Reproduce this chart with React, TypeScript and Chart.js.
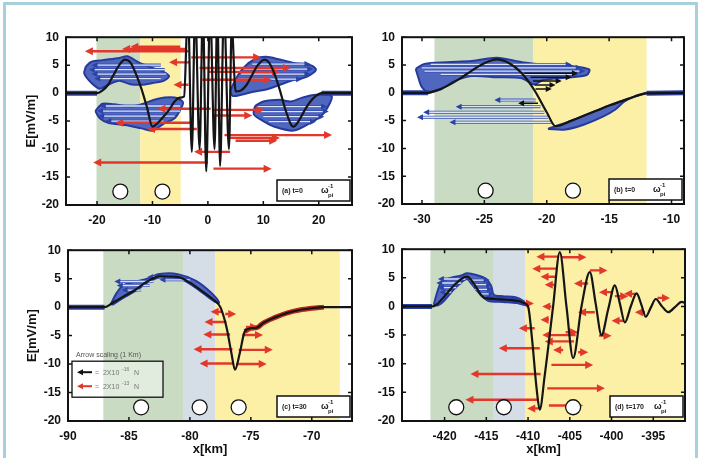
import React, { useEffect, useRef } from "react";
import { Chart, registerables } from "chart.js";
Chart.register(...registerables);

// ---------------- shared ----------------
const yTicks = [-20, -15, -10, -5, 0, 5, 10];
const circleY = -17.6;

// ---------------- panel (a) ----------------
const aRange = [-25.6, 26];
const aTicks = [-20, -10, 0, 10, 20];
const aX = [-25.6, -20, -19, -18, -17, -16, -15, -14, -13, -12, -11, -10, -9, -8, -7, -6, -5, -4.3, -3.6, -2.9, -2.3, -1.5, -0.9, -0.3, 0.4, 1.2, 1.7, 2.2, 2.9, 3.8, 4.3, 5, 6, 7, 8, 9, 10.2, 11, 12, 13, 14, 15.4, 16.5, 17.5, 18.5, 19.5, 20.5, 26];
const aY = [0, 0, 0.5, 1.5, 3.3, 5, 6, 5.5, 3.5, 0.8, -2.5, -6, -5.3, -4.2, -3, -1.5, -0.8, -0.6, 15, -10.5, 15, -10, 15, -14, 15, -10, 15, -13, 15, -10, 12, 0.3, 0.5, 1.5, 3.3, 5, 6, 5.5, 3.5, 0.5, -3, -6, -4.8, -3, -1.5, -0.5, 0, 0];
const aBands = [[-20.1, -12.2], [-12.2, -4.9]];
const aBandKinds = ["green", "yellow"];
const aThickBlue = [[-25.6, -20], [20.5, 26]];
const aThickRed: number[][] = [];
const aCircleX = [-15.8, -8.2];
const aBlob1X = [-22, -21, -19, -16, -14.5, -12.5, -10, -8, -7, -8, -10, -12, -14, -16, -18, -19.5, -21, -22.3];
const aBlob1Y = [4.8, 5.6, 5.9, 6.3, 6.6, 5.5, 4.5, 3.8, 3, 2.2, 1.8, 1.5, 1.6, 2.2, 1.5, 0.8, 1.8, 3.5];
const aBlob2X = [-20.3, -19, -17, -14, -12, -9, -6, -4.5, -5, -6, -8, -10, -12, -15, -18, -19.5];
const aBlob2Y = [-3.2, -1.9, -2, -2.4, -2, -1, -0.8, -1.6, -3, -4.5, -5.5, -6.7, -6.3, -5.7, -5.3, -4.5];
const aBlob3X = [4, 5, 6.5, 8.5, 10.5, 13, 16, 18.5, 19.5, 18, 15, 13, 11, 8, 6, 4.5];
const aBlob3Y = [0.3, 2.5, 4.6, 6.1, 6.5, 6, 5.3, 5, 4.2, 3, 2.2, 1.5, 0.8, 0.2, -0.3, -0.5];
const aBlob4X = [8.5, 10, 13, 15, 17, 19.5, 22.3, 22, 20.5, 18, 15.4, 12, 10, 8.3];
const aBlob4Y = [-2.3, -1.5, -1.2, -1.5, -0.8, -0.3, -0.5, -1.8, -4, -5.6, -6.7, -6, -5, -3.8];
// arrows: [E, xFrom, xTo]
const aLightArrows = [[5.0, -8.5, -21], [4.2, -7.8, -21.5], [3.4, -7.5, -21], [2.6, -8.5, -20.5], [-2.3, -5, -19.5], [-3.2, -5, -20], [-4.1, -6, -19.8], [-5, -8, -18.5], [5.2, 8, 18.5], [4.3, 6.5, 19], [3.4, 6, 18.5], [2.5, 5.5, 17], [-2.4, 9, 21.5], [-3.3, 9.5, 21.8], [-4.2, 10, 21], [-5.1, 11, 19.5]];
const aRedArrows = [[7.5, -3.5, -22.2], [7.9, -4, -15.5], [8.3, -5, -14], [6.4, -3, 9.6], [4.5, -1.5, 15], [3.8, 0, 13], [2.4, -1, 11.5], [5.5, -3.2, -7], [1.5, -3.5, -6.2], [-2.8, 0.5, -9.1], [-3.0, 1, 10.2], [-4.0, 1, 8], [-5.3, -3, -16.7], [-6.4, -2, -11], [-7.5, 3, 22.4], [-8.0, 4, 13], [-8.5, 5, 12.5], [-10.5, 4, -2.5], [-12.4, 0, -20.7], [-13.5, 1, 11.5]];
const aBlackArrows: number[][] = [];

// ---------------- panel (b) ----------------
const bRange = [-31.6, -9];
const bTicks = [-30, -25, -20, -15, -10];
const bX = [-31.6, -29.5, -29, -28, -27, -26, -25, -24, -23, -22, -21, -20, -19.3, -18, -17, -16, -15, -14, -13, -12, -9];
const bY = [0, 0, 0.3, 1.2, 2.5, 4, 5.3, 6, 5.3, 3.5, 0.5, -3.5, -6, -5, -4.1, -3.2, -2.3, -1.5, -0.7, -0.1, 0];
const bBands = [[-29, -21.1], [-21.1, -12]];
const bBandKinds = ["green", "yellow"];
const bThickBlue = [[-31.6, -29.5], [-12, -9]];
const bThickRed: number[][] = [];
const bCircleX = [-24.9, -17.9];
const bBlob1X = [-30.5, -29.8, -28, -26, -24, -22, -20, -18, -16.6, -16.8, -18.5, -20.3, -21, -22, -24, -26, -27.5, -28.5, -29.5, -30, -30.3];
const bBlob1Y = [4.3, 5.2, 5.5, 5.7, 6.3, 5.5, 5, 4.8, 4.2, 3.2, 2.7, 2.3, 1.5, 2.6, 2.8, 3, 2, 0.6, 0.2, 1, 2.8];
const bBlob2X = [-19.9, -18.5, -17, -15.5, -14.5, -13.8, -12.8, -12, -13, -14, -15, -16, -17, -18, -19.3];
const bBlob2Y = [-6.5, -6.6, -5.7, -4.3, -3, -1.6, -0.5, 0, -0.7, -1.5, -2.3, -3.2, -4.1, -5, -6];
const bLightArrows = [[5.1, -29.3, -18], [4.5, -30, -17.2], [3.9, -29.8, -16.9], [3.3, -28.5, -17.5], [-1.3, -20.9, -24.2], [-2.5, -20.5, -27.3], [-3.5, -20.2, -29.9], [-4.4, -19.9, -30.4], [-5.3, -19.6, -27.8]];
const bRedArrows: number[][] = [];
const bBlackArrows = [[3.5, -21.8, -17.5], [2.8, -21.3, -18], [2.1, -21.1, -18.8], [1.4, -20.95, -19.3], [0.7, -20.9, -19.6], [-1.9, -20.7, -22.3]];

// ---------------- panel (c) ----------------
const cRange = [-90, -66.7];
const cTicks = [-90, -85, -80, -75, -70];
const cX = [-90, -87, -86.3, -85.5, -84.5, -83.5, -82.5, -81, -80, -79, -78, -77.5, -77, -76.6, -76.3, -75.9, -75.5, -75, -74.5, -74, -73, -72, -71, -70, -69, -66.7];
const cY = [0, 0, 0.8, 1.8, 3, 4.5, 5.4, 5.3, 4.3, 2.8, 1.2, 0, -3.5, -8, -11, -8, -4.3, -3.7, -3.6, -2.8, -1.8, -1, -0.5, -0.2, 0, 0];
const cBands = [[-87.1, -80.5], [-80.5, -77.9], [-77.9, -67.7]];
const cBandKinds = ["green", "gray", "yellow"];
const cThickBlue = [[-90, -87]];
const cThickRed = [[-75.5, -69]];
const cCircleX = [-84, -79.2, -76];
const cBlob1X = [-86.5, -86, -85.5, -84.8, -83.5, -82.5, -81, -79.5, -78.3, -77.6, -78, -79, -80, -81, -82.5, -83.5, -84.5, -85.5, -86.3];
const cBlob1Y = [0.5, 2.5, 3.8, 4.3, 5, 5.8, 5.8, 4.6, 2.6, 0.8, 1.0, 2.6, 4.1, 5.1, 5.2, 4.3, 2.8, 1.6, 0.5];
const cLightArrows = [[4.5, -83, -86.2], [3.8, -83.3, -86], [3, -84, -85.6], [5.3, -81, -83.5], [4.8, -80, -82.5]];
const cRedArrows = [[-0.8, -77.3, -78.3], [-2.6, -77, -78.8], [-4.8, -76.7, -78.9], [-4.9, -75.7, -74], [-7.4, -76.5, -79.7], [-7.5, -76, -73.2], [-9.9, -76.4, -79.2], [-10, -76.2, -73.7], [-1.2, -77.1, -76.2], [-3.5, -75.4, -74.4]];
const cBlackArrows: number[][] = [];

// ---------------- panel (d) ----------------
const dRange = [-425.1, -391.2];
const dTicks = [-420, -415, -410, -405, -400, -395];
const dX = [-425.1, -421.5, -421, -420, -419, -418, -417.3, -416.5, -415.5, -415, -414, -413, -412, -411, -410.5, -410, -409.5, -409, -408.6, -408, -407, -406.2, -405.4, -404.6, -403.6, -402.6, -401.9, -401.2, -400.4, -399.6, -399, -398.4, -397.7, -397, -396.4, -395.9, -395.3, -394.7, -394, -393.2, -392.4, -391.6, -391.2];
const dY = [0, 0, 0.3, 1.8, 3.5, 4.8, 5.2, 4, 1.8, 1.4, 1.3, 1.2, 1.1, 0.9, 0.6, 0, -6, -14, -18, -12, 0, 9.5, 0, -9, 0, 6, 0.5, -5, -0.5, 3.7, 0.5, -2.8, 0, 2.3, 0.2, -1.8, -0.2, 1.3, 0.1, -1, -0.1, 0.8, 0.6];
const dBands = [[-421.7, -414.1], [-414.1, -410.3], [-410.3, -391.2]];
const dBandKinds = ["green", "gray", "yellow"];
const dThickBlue = [[-425.1, -421.5], [-415, -410.5]];
const dThickRed: number[][] = [];
const dCircleX = [-418.6, -412.9, -404.6];
const dBlob1X = [-421.3, -420.9, -420.4, -419.3, -418, -417.3, -416.2, -415, -414.4, -414.1, -413, -411.5, -410.6, -410.2, -411.3, -413, -414.8, -415.8, -416.8, -417.3, -418, -419, -420, -420.8];
const dBlob1Y = [0.3, 2.4, 4.2, 5, 5.4, 5.8, 5.5, 4.8, 3.5, 2, 1.8, 1.6, 1, 0.2, 0.6, 0.8, 1, 2.2, 4, 4.8, 4.2, 2.8, 1.1, 0.2];
const dLightArrows = [[4.8, -417.5, -420.8], [4.1, -418, -421], [3.3, -418.6, -420.8], [2.5, -419.2, -420.6], [4.6, -417, -414.6], [3.8, -416.6, -414.3], [3, -416.3, -414.2], [2.2, -415.8, -414]];
const dRedArrows = [[8.7, -406.3, -409], [8.6, -406, -403], [6.6, -406.5, -409.5], [6.3, -402.6, -400.5], [5.2, -406.7, -408.5], [4, -402.8, -404.5], [3.8, -406.9, -408], [2.5, -400, -401.5], [2.2, -397, -398.5], [1.8, -399.6, -398], [0.5, -410, -409.3], [0, -407.2, -408.3], [-1, -402, -404], [-2.3, -407.5, -408.5], [-2.5, -398.5, -400], [-3.8, -409.2, -411.1], [-4.5, -405.5, -404], [-5, -404.3, -408.3], [-5.1, -401.5, -400], [-6.1, -404.5, -408], [-7.3, -408.6, -413.5], [-7.6, -405.8, -407], [-8, -404, -402.8], [-10.2, -407.2, -402.2], [-11.8, -408.5, -416.9], [-14.3, -407.7, -400.8], [-16.3, -408.7, -417.5], [-17.3, -407.5, -403.4], [-17.8, -408.5, -410.1], [1.5, -394.5, -393], [-1, -396, -397.2]];
const dBlackArrows: number[][] = [];

// ---------------- styles / layout ----------------
const BAND_COLORS: any = { green: "#c9dcc3", yellow: "#fcefa6", gray: "#d5dde6" };
const FONT = "'Liberation Sans', Arial, sans-serif";

const panels: any[] = [
  { id: "a", tag: "(a) t=0", range: aRange, ticks: aTicks, x: aX, y: aY, bands: aBands, kinds: aBandKinds, thickBlue: aThickBlue, thickRed: aThickRed, circles: aCircleX, blobs: [[aBlob1X, aBlob1Y], [aBlob2X, aBlob2Y], [aBlob3X, aBlob3Y], [aBlob4X, aBlob4Y]], light: aLightArrows, red: aRedArrows, black: aBlackArrows, yTitle: true, xTitle: false, box: { left: 12, top: 23, w: 354, h: 206, wy: 54, hx: 24, tp: 12 } },
  { id: "b", tag: "(b) t=0", range: bRange, ticks: bTicks, x: bX, y: bY, bands: bBands, kinds: bBandKinds, thickBlue: bThickBlue, thickRed: bThickRed, circles: bCircleX, blobs: [[bBlob1X, bBlob1Y], [bBlob2X, bBlob2Y]], light: bLightArrows, red: bRedArrows, black: bBlackArrows, yTitle: false, xTitle: false, box: { left: 366, top: 23, w: 332, h: 205, wy: 36, hx: 24, tp: 0 } },
  { id: "c", tag: "(c) t=30", range: cRange, ticks: cTicks, x: cX, y: cY, bands: cBands, kinds: cBandKinds, thickBlue: cThickBlue, thickRed: cThickRed, circles: cCircleX, blobs: [[cBlob1X, cBlob1Y]], light: cLightArrows, red: cRedArrows, black: cBlackArrows, yTitle: true, xTitle: true, legend: true, box: { left: 12, top: 236, w: 354, h: 221, wy: 56, hx: 36, tp: 13 } },
  { id: "d", tag: "(d) t=170", range: dRange, ticks: dTicks, x: dX, y: dY, bands: dBands, kinds: dBandKinds, thickBlue: dThickBlue, thickRed: dThickRed, circles: dCircleX, blobs: [[dBlob1X, dBlob1Y]], light: dLightArrows, red: dRedArrows, black: dBlackArrows, yTitle: false, xTitle: true, box: { left: 366, top: 235, w: 333, h: 222, wy: 36, hx: 36, tp: 0 } },
];

function drawArrow(ctx: any, chart: any, a: number[], color: string, width: number, head: number, headColor?: string, outline?: string) {
  const sx = chart.scales.x, sy = chart.scales.y;
  const Y = sy.getPixelForValue(a[0]);
  const X0 = sx.getPixelForValue(a[1]);
  const X1 = sx.getPixelForValue(a[2]);
  const dir = Math.sign(X1 - X0) || 1;
  if (outline) {
    ctx.strokeStyle = outline;
    ctx.lineWidth = width + 1.8;
    ctx.beginPath(); ctx.moveTo(X0, Y); ctx.lineTo(X1 - dir * head * 0.6, Y); ctx.stroke();
  }
  ctx.strokeStyle = color;
  ctx.lineWidth = width;
  ctx.beginPath(); ctx.moveTo(X0, Y); ctx.lineTo(X1 - dir * head * 0.6, Y); ctx.stroke();
  ctx.fillStyle = headColor || color;
  ctx.beginPath();
  ctx.moveTo(X1, Y);
  ctx.lineTo(X1 - dir * head, Y - head * 0.5);
  ctx.lineTo(X1 - dir * head, Y + head * 0.5);
  ctx.closePath(); ctx.fill();
}

function makePlugin(p: any) {
  return {
    id: "panel" + p.id,
    beforeDatasetsDraw(chart: any) {
      const { ctx, chartArea: ca, scales } = chart;
      ctx.save();
      p.bands.forEach((b: number[], i: number) => {
        const x0 = Math.max(ca.left, scales.x.getPixelForValue(b[0]));
        const x1 = Math.min(ca.right, scales.x.getPixelForValue(b[1]));
        ctx.fillStyle = BAND_COLORS[p.kinds[i]];
        ctx.fillRect(x0, ca.top, x1 - x0, ca.bottom - ca.top);
      });
      ctx.restore();
    },
    beforeDatasetDraw(chart: any, args: any) {
      if (chart.data.datasets[args.index].label !== "E") return;
      const { ctx, chartArea: ca } = chart;
      ctx.save();
      ctx.beginPath(); ctx.rect(ca.left, ca.top, ca.right - ca.left, ca.bottom - ca.top); ctx.clip();
      ctx.lineCap = "butt";
      p.light.forEach((a: number[]) => drawArrow(ctx, chart, a, "#dbe3f6", 1.3, 6, "#2c43a6", "#3a52b4"));
      p.black.forEach((a: number[]) => drawArrow(ctx, chart, a, "#111", 1.5, 6));
      p.red.forEach((a: number[]) => drawArrow(ctx, chart, a, "#e2372b", 2.4, 8));
      ctx.restore();
    },
    afterDatasetsDraw(chart: any) {
      const { ctx, chartArea: ca, scales } = chart;
      ctx.save();
      // frame
      ctx.strokeStyle = "#111";
      ctx.lineWidth = 2;
      ctx.strokeRect(ca.left, ca.top, ca.right - ca.left, ca.bottom - ca.top);
      // inward ticks on all sides
      ctx.lineWidth = 1.5;
      ctx.beginPath();
      scales.x.ticks.forEach((t: any) => {
        const X = scales.x.getPixelForValue(t.value);
        ctx.moveTo(X, ca.bottom); ctx.lineTo(X, ca.bottom - 4);
        ctx.moveTo(X, ca.top); ctx.lineTo(X, ca.top + 4);
      });
      scales.y.ticks.forEach((t: any) => {
        const Y = scales.y.getPixelForValue(t.value);
        ctx.moveTo(ca.left, Y); ctx.lineTo(ca.left + 4, Y);
        ctx.moveTo(ca.right, Y); ctx.lineTo(ca.right - 4, Y);
      });
      ctx.stroke();
      // label box
      const w = 73, h = 21;
      const bx = ca.right - 2 - w, by = ca.bottom - 4 - h;
      ctx.fillStyle = "#fff";
      ctx.fillRect(bx, by, w, h);
      ctx.strokeStyle = "#111";
      ctx.lineWidth = 1.5;
      ctx.strokeRect(bx, by, w, h);
      ctx.fillStyle = "#222";
      ctx.textBaseline = "alphabetic";
      ctx.textAlign = "left";
      ctx.font = `bold 7px ${FONT}`;
      ctx.fillText(p.tag, bx + 5, by + 13);
      ctx.font = `bold 9px ${FONT}`;
      const wx = bx + 44;
      ctx.fillText("ω", wx, by + 13);
      ctx.font = `bold 6px ${FONT}`;
      ctx.fillText("-1", wx + 7, by + 8);
      ctx.fillText("pi", wx + 7, by + 17);
      // arrow scaling legend
      if (p.legend) {
        const lx = ca.left + 4, ly = ca.top + 111, lw = 91, lh = 36;
        ctx.fillStyle = "rgba(255,255,255,0.45)";
        ctx.fillRect(lx, ly, lw, lh);
        ctx.strokeStyle = "#111";
        ctx.lineWidth = 1.3;
        ctx.strokeRect(lx, ly, lw, lh);
        ctx.fillStyle = "#555";
        ctx.font = `7px ${FONT}`;
        ctx.fillText("Arrow scaling (1 Km)", lx + 4, ly - 4);
        const rows = [["#111", "16", 11], ["#e2372b", "13", 25]];
        rows.forEach((r: any) => {
          const yy = ly + r[2];
          ctx.strokeStyle = r[0]; ctx.fillStyle = r[0]; ctx.lineWidth = 2;
          ctx.beginPath(); ctx.moveTo(lx + 20, yy); ctx.lineTo(lx + 10, yy); ctx.stroke();
          ctx.beginPath(); ctx.moveTo(lx + 5, yy); ctx.lineTo(lx + 11, yy - 3); ctx.lineTo(lx + 11, yy + 3); ctx.closePath(); ctx.fill();
          ctx.fillStyle = "#777";
          ctx.font = `7px ${FONT}`;
          ctx.fillText("=  2X10", lx + 23, yy + 3);
          ctx.font = `5px ${FONT}`;
          ctx.fillText("-" + r[1], lx + 50, yy - 1);
          ctx.font = `7px ${FONT}`;
          ctx.fillText("N", lx + 62, yy + 3);
        });
      }
      ctx.restore();
    },
  };
}

function buildConfig(p: any) {
  const box = p.box;
  const pts = (xs: number[], ys: number[]) => xs.map((x, i) => ({ x, y: ys[i] }));
  const seg = (r: number[]) => pts(p.x, p.y).filter((q) => q.x >= r[0] - 1e-9 && q.x <= r[1] + 1e-9);
  const datasets: any[] = [];
  datasets.push({ label: "circles", data: p.circles.map((x: number) => ({ x, y: circleY })), showLine: false, pointRadius: 7.5, pointBackgroundColor: "#fff", pointBorderColor: "#111", pointBorderWidth: 1.3, order: 0 });
  datasets.push({ label: "E", data: pts(p.x, p.y), borderColor: "#151515", borderWidth: 2.2, pointRadius: 0, cubicInterpolationMode: "monotone", fill: false, order: 1 });
  p.thickRed.forEach((r: number[]) => datasets.push({ label: "ired", data: seg(r), borderColor: "#b9271e", borderWidth: 5, pointRadius: 0, cubicInterpolationMode: "monotone", fill: false, order: 2 }));
  p.thickBlue.forEach((r: number[]) => datasets.push({ label: "eblue", data: seg(r), borderColor: "#2b40a4", borderWidth: 5, pointRadius: 0, cubicInterpolationMode: "monotone", fill: false, order: 3 }));
  p.blobs.forEach((b: number[][]) => {
    const d = pts(b[0], b[1]);
    d.push(d[0]);
    datasets.push({ label: "blob", data: d, fill: "shape", backgroundColor: "#5067c0", borderColor: "#273a9c", borderWidth: 2, pointRadius: 0, tension: 0.3, order: 4 });
  });
  const tickFont = { family: FONT, weight: "bold", size: 12 };
  const titleFont = { family: FONT, weight: "bold", size: 13 };
  return {
    type: "line",
    data: { datasets },
    plugins: [makePlugin(p)],
    options: {
      animation: false,
      responsive: false,
      devicePixelRatio: 1,
      events: [],
      layout: { padding: { left: 0, top: 10, right: 14, bottom: 0 } },
      plugins: { legend: { display: false }, tooltip: { enabled: false } },
      scales: {
        x: {
          type: "linear",
          min: p.range[0],
          max: p.range[1],
          afterBuildTicks: (s: any) => { s.ticks = p.ticks.map((v: number) => ({ value: v })); },
          afterFit: (s: any) => { s.height = box.hx; },
          grid: { display: false, drawTicks: false },
          border: { display: false },
          ticks: { font: tickFont, color: "#111", padding: 8, autoSkip: false, maxRotation: 0, callback: (v: any) => String(v) },
          title: { display: p.xTitle, text: "x[km]", font: titleFont, color: "#111", padding: { top: 0, bottom: 0 } },
        },
        y: {
          type: "linear",
          min: -20,
          max: 10,
          afterBuildTicks: (s: any) => { s.ticks = yTicks.map((v) => ({ value: v })); },
          afterFit: (s: any) => { s.width = box.wy; },
          grid: { display: false, drawTicks: false },
          border: { display: false },
          ticks: { font: tickFont, color: "#111", padding: 7, callback: (v: any) => String(v) },
          title: { display: p.yTitle, text: "E[mV/m]", font: titleFont, color: "#111", padding: { top: box.tp, bottom: 0 } },
        },
      },
    },
  };
}

function Panel({ p }: { p: any }) {
  const ref = useRef<HTMLCanvasElement>(null);
  useEffect(() => {
    const chart = new Chart(ref.current as any, buildConfig(p) as any);
    return () => chart.destroy();
  }, []);
  const b = p.box;
  return <canvas ref={ref} width={b.w} height={b.h} style={{ position: "absolute", left: b.left, top: b.top, width: b.w, height: b.h }} />;
}

export default function App() {
  return (
    <div style={{ position: "absolute", left: 0, top: 0, width: 701, height: 458, overflow: "hidden", background: "#fff" }}>
      <div style={{ position: "absolute", left: 3, top: 2, width: 689, height: 470, borderTop: "3px solid #a8d0dc", borderLeft: "3px solid #a8d0dc", borderRight: "3px solid #a8d0dc" }} />
      {panels.map((p) => <Panel key={p.id} p={p} />)}
    </div>
  );
}
